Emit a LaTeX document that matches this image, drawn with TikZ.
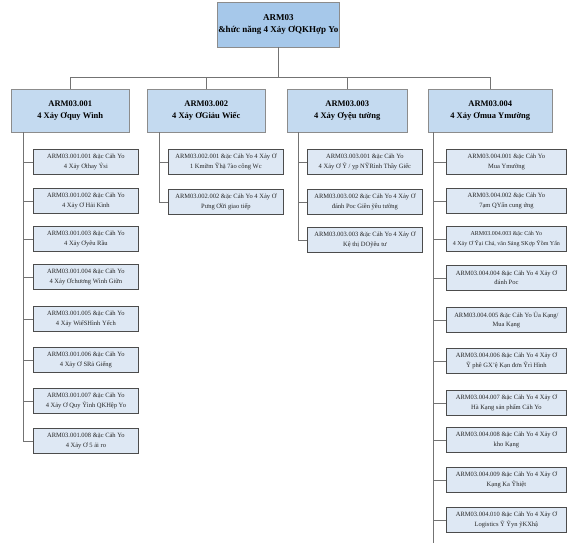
\documentclass[tikz,border=0pt]{standalone}
\usepackage{fontspec}
\setmainfont{Liberation Serif}
\begin{document}
\begin{tikzpicture}[x=1pt,y=-1pt,
  topbox/.style={draw=black!45, fill={rgb,255:red,166;green,200;blue,234}, line width=0.5pt, anchor=north west, minimum width=120, minimum height=45, align=center, inner sep=1pt, font=\fontsize{9}{12}\selectfont\bfseries},
  lonebox/.style={draw=black!45, fill={rgb,255:red,196;green,218;blue,240}, line width=0.5pt, anchor=north west, minimum height=43, align=center, inner sep=1pt, font=\fontsize{8.5}{12}\selectfont\bfseries},
  kidbox/.style={draw=black!70, fill={rgb,255:red,222;green,232;blue,244}, line width=0.8pt, anchor=north west, minimum height=25, align=center, inner sep=1pt, text=black!85, font=\fontsize{6.5}{9.5}\selectfont},
  wire/.style={draw=black!55, line width=0.5pt}
]
\useasboundingbox (0,0) rectangle (576,551);
\fill[white] (0,0) rectangle (576,551);

% top
\node[topbox] (top) at (217,2) {ARM03\\\&hức năng 4 Xảy ƠQKHợp Yo};

% level 1
\node[lonebox, minimum width=118] (a) at (11,89) {ARM03.001\\4 Xảy Ơquy Wình};
\node[lonebox, minimum width=118] (b) at (147,89) {ARM03.002\\4 Xảy ƠGiảu Wiếc};
\node[lonebox, minimum width=120] (c) at (287,89) {ARM03.003\\4 Xảy Ơyệu tường};
\node[lonebox, minimum width=124] (d) at (428,89) {ARM03.004\\4 Xảy Ơmua Ymường};

\draw[wire] (top.south) -- ++(0,30) -| (a.north);
\draw[wire] (top.south) ++(0,30) -| (b.north);
\draw[wire] (top.south) ++(0,30) -| (c.north);
\draw[wire] (top.south) ++(0,30) -| (d.north);

% column 1
\coordinate (va) at (23,132);
\node[kidbox, minimum width=105] (a1) at (33,149) {ARM03.001.001 \&ặc Cảh Yo\\4 Xảy Ơthay Ỷsi};
\node[kidbox, minimum width=105] (a2) at (33,188) {ARM03.001.002 \&ặc Cảh Yo\\4 Xảy Ơ Hải Kình};
\node[kidbox, minimum width=105] (a3) at (33,226) {ARM03.001.003 \&ặc Cảh Yo\\4 Xảy Ơyêu Rầu};
\node[kidbox, minimum width=105] (a4) at (33,264) {ARM03.001.004 \&ặc Cảh Yo\\4 Xảy Ơchương Wình Giữn};
\node[kidbox, minimum width=105] (a5) at (33,306) {ARM03.001.005 \&ặc Cảh Yo\\4 Xảy WiếSHình Yếch};
\node[kidbox, minimum width=105] (a6) at (33,347) {ARM03.001.006 \&ặc Cảh Yo\\4 Xảy Ơ SRả Giếng};
\node[kidbox, minimum width=105] (a7) at (33,388) {ARM03.001.007 \&ặc Cảh Yo\\4 Xảy Ơ Quy Ỹình QKHệp Yo};
\node[kidbox, minimum width=105] (a8) at (33,428) {ARM03.001.008 \&ặc Cảh Yo\\4 Xảy Ơ 5 ải ro};
\draw[wire] (va) -- (va |- a8.west);
\foreach \k in {a1,a2,a3,a4,a5,a6,a7,a8} \draw[wire] (va |- \k.west) -- (\k.west);

% column 2
\coordinate (vb) at (159,132);
\node[kidbox, minimum width=115] (b1) at (168,149) {ARM03.002.001 \&ặc Cảh Yo 4 Xảy Ơ\\1 Kmữm Ỹhặ 7ào công Wc};
\node[kidbox, minimum width=115] (b2) at (168,189) {ARM03.002.002 \&ặc Cảh Yo 4 Xảy Ơ\\Pưng Ơữi giao tiếp};
\draw[wire] (vb) -- (vb |- b2.west);
\foreach \k in {b1,b2} \draw[wire] (vb |- \k.west) -- (\k.west);

% column 3
\coordinate (vc) at (298,132);
\node[kidbox, minimum width=115] (c1) at (307,149) {ARM03.003.001 \&ặc Cảh Yo\\4 Xảy Ơ Ỹ / ỵp NỸRình Thầy Giếc};
\node[kidbox, minimum width=115] (c2) at (307,189) {ARM03.003.002 \&ặc Cảh Yo 4 Xảy Ơ\\đánh Poc Giền ỹêu tường};
\node[kidbox, minimum width=115] (c3) at (307,227) {ARM03.003.003 \&ặc Cảh Yo 4 Xảy Ơ\\Kệ thị DOỹêu tư};
\draw[wire] (vc) -- (vc |- c3.west);
\foreach \k in {c1,c2,c3} \draw[wire] (vc |- \k.west) -- (\k.west);

% column 4
\coordinate (vd) at (433,132);
\coordinate (vdend) at (433,543);
\node[kidbox, minimum width=120] (d1) at (446,149) {ARM03.004.001 \&ặc Cảh Yo\\Mua Ymường};
\node[kidbox, minimum width=120] (d2) at (446,188) {ARM03.004.002 \&ặc Cảh Yo\\7ạm QYấn cung ứng};
\node[kidbox, minimum width=120, font=\fontsize{6}{9.5}\selectfont] (d3) at (446,226) {ARM03.004.003 \&ặc Cảh Yo\\4 Xảy Ơ Ỹại Chả, văn Sảng SKợp Ỹồm Yấn};
\node[kidbox, minimum width=120] (d4) at (446,265) {ARM03.004.004 \&ặc Cảh Yo 4 Xảy Ơ\\đánh Poc};
\node[kidbox, minimum width=120] (d5) at (446,307) {ARM03.004.005 \&ặc Cảh Yo Ủa Kạng/\\Mua Kạng};
\node[kidbox, minimum width=120] (d6) at (446,348) {ARM03.004.006 \&ặc Cảh Yo 4 Xảy Ơ\\Ỹ phê GX'ệ Kạn đơn Ỹrì Hình};
\node[kidbox, minimum width=120] (d7) at (446,390) {ARM03.004.007 \&ặc Cảh Yo 4 Xảy Ơ\\Hà Kạng sản phẩm Cảh Yo};
\node[kidbox, minimum width=120] (d8) at (446,427) {ARM03.004.008 \&ặc Cảh Yo 4 Xảy Ơ\\kho Kạng};
\node[kidbox, minimum width=120] (d9) at (446,467) {ARM03.004.009 \&ặc Cảh Yo 4 Xảy Ơ\\Kạng Ka Ỹhiệt};
\node[kidbox, minimum width=120] (d10) at (446,507) {ARM03.004.010 \&ặc Cảh Yo 4 Xảy Ơ\\Logistics Ỹ Ỹyn ỹKXhậ};
\draw[wire] (vd) -- (vdend);
\foreach \k in {d1,d2,d3,d4,d5,d6,d7,d8,d9,d10} \draw[wire] (vd |- \k.west) -- (\k.west);
\end{tikzpicture}
\end{document}
